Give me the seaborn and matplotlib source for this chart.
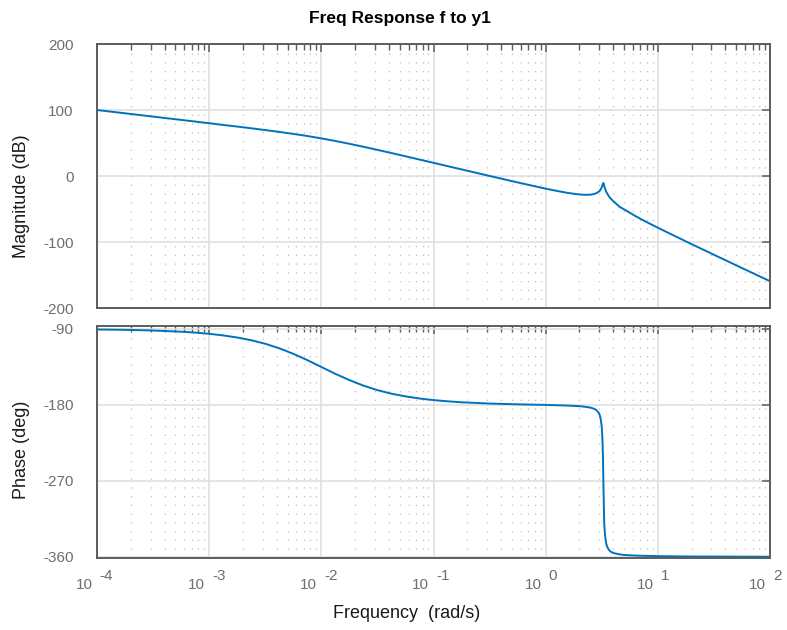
import matplotlib
matplotlib.use("Agg")
import matplotlib.pyplot as plt
import matplotlib.ticker as mticker
from matplotlib.transforms import blended_transform_factory, offset_copy
import seaborn as sns
import pandas as pd

# ---- data (rad/s, dB, deg) ----
freq = [1e-4, 1.78e-4, 3.16e-4, 5.62e-4, 7.50e-4, 1e-3, 1.33e-3, 1.78e-3, 2.37e-3,
        3.16e-3, 4.22e-3, 5.62e-3, 7.50e-3, 1e-2, 1.33e-2, 1.78e-2, 2.37e-2,
        3.16e-2, 4.22e-2, 5.62e-2, 7.50e-2, 0.1, 0.133, 0.178, 0.316, 0.562,
        1.0, 1.26, 1.58, 2.0, 2.24, 2.51, 2.69, 2.82, 2.95, 3.02, 3.09,
        3.16, 3.20, 3.24, 3.27, 3.30, 3.33, 3.39, 3.47, 3.55, 3.67, 3.80,
        3.98, 4.17, 4.57, 5.01, 6.31, 7.94, 10.0, 17.8, 31.6, 56.2, 100.0]
magnitude_db = [100, 95, 90, 85, 82.5, 80, 77.4, 74.9, 72.3,
                69.6, 66.8, 63.8, 60.6, 57.0, 53.1, 48.8, 44.3,
                39.6, 34.8, 29.9, 24.9, 20.0, 15.0, 10.0, 0.1, -9.7,
                -19.2, -22.6, -25.7, -28.0, -28.5, -28.3, -27.3, -26.2, -24.2, -22.7, -20.4,
                -17.2, -14.4, -11.7, -10.7, -12.1, -15.5, -19.3, -24.0, -27.0, -31.1, -34.1,
                -37.7, -40.7, -46.8, -50.6, -60.7, -69.8, -78.4, -99.1, -119.3, -139.4, -159.4]
phase_deg = [-90.6, -91.0, -91.8, -93.2, -94.3, -95.7, -97.6, -100.1, -103.3,
             -107.5, -112.9, -119.4, -126.9, -135.0, -143.1, -150.6, -157.1,
             -162.5, -166.7, -169.9, -172.4, -174.3, -175.7, -176.9, -178.4, -179.3,
             -180.0, -180.4, -180.8, -181.5, -182.2, -183.2, -184.5, -185.9, -188.8, -191.2, -195.9,
             -205.3, -217.6, -240.1, -270.0, -299.6, -322.0, -335.6, -344.8, -348.7, -352.1, -354.0,
             -355.3, -356.1, -357.2, -357.9, -358.6, -359.0, -359.3, -359.7, -359.8, -359.9, -360.0]

mag_ticks = [-200, -100, 0, 100, 200]
phase_ticks = [-360, -270, -180, -90]
x_decades = [1e-4, 1e-3, 1e-2, 1e-1, 1e0, 1e1, 1e2]
x_exponents = ["-4", "-3", "-2", "-1", "0", "1", "2"]

title = "Freq Response f to y1"
mag_label = "Magnitude (dB)"
phase_label = "Phase (deg)"
x_label = "Frequency  (rad/s)"

df = pd.DataFrame({"freq": freq, "mag": magnitude_db, "phase": phase_deg})

sns.set_theme(style="white")
plt.rcParams["font.family"] = ["Liberation Sans", "DejaVu Sans"]

W, H = 787, 630
fig = plt.figure(figsize=(W / 100, H / 100), dpi=100)
left, right = 97 / W, 770 / W
ax1 = fig.add_axes([left, 1 - 308 / H, right - left, (308 - 44) / H])
ax2 = fig.add_axes([left, 1 - 558 / H, right - left, (558 - 325.7) / H])

line_color = "#0072BD"
frame_color = "#5c5c5c"
tick_color = "#6e6e6e"

sns.lineplot(data=df, x="freq", y="mag", ax=ax1, color=line_color, lw=1.4,
             estimator=None, sort=False)
sns.lineplot(data=df, x="freq", y="phase", ax=ax2, color=line_color, lw=1.4,
             estimator=None, sort=False)

for ax in (ax1, ax2):
    ax.set_xscale("log")
    ax.set_xlim(1e-4, 1e2)
    ax.xaxis.set_major_locator(mticker.FixedLocator(x_decades))
    ax.xaxis.set_minor_locator(mticker.LogLocator(base=10, subs=range(2, 10), numticks=30))
    ax.grid(True, which="major", color="#dedede", lw=1.1, ls="-")
    ax.grid(True, which="minor", axis="x", color="#bdbdbd", lw=0.9, ls=(0, (1, 6)))
    ax.set_axisbelow(True)
    for s in ax.spines.values():
        s.set_color(frame_color)
        s.set_linewidth(1.4)
    ax.tick_params(which="both", direction="in", top=True, right=True,
                   colors=frame_color, labelcolor=tick_color, labelsize=11)
    ax.tick_params(which="major", length=6, width=1.1, pad=17)
    ax.tick_params(which="minor", length=4, width=1.0)
    ax.set_xlabel("")
    ax.set_ylabel("")
    ax.xaxis.set_major_formatter(mticker.NullFormatter())
    ax.xaxis.set_minor_formatter(mticker.NullFormatter())

ax1.set_ylim(-200, 200)
ax1.set_yticks(mag_ticks)
ax1.set_yticklabels([str(v) for v in mag_ticks])
ax2.set_ylim(-361.5, -86.1)
ax2.set_yticks(phase_ticks)
ax2.set_yticklabels([str(v) for v in phase_ticks])

# x tick labels in "10 ^exp" style
trans = blended_transform_factory(ax2.transData, fig.transFigure)
for xv, ex in zip(x_decades, x_exponents):
    t1 = offset_copy(trans, fig=fig, x=-3, y=0, units="points")
    ax2.text(xv, 1 - 589 / H, "10", transform=t1, ha="right", va="baseline",
             fontsize=11, color=tick_color)
    t2 = offset_copy(trans, fig=fig, x=2, y=0, units="points")
    ax2.text(xv, 1 - 580 / H, ex, transform=t2, ha="left", va="baseline",
             fontsize=11, color=tick_color)

fig.text(399.5 / W, 1 - 18 / H, title, ha="center", va="center",
         fontsize=12.5, fontweight="bold", color="black")
fig.text(407 / W, 1 - 613 / H, x_label, ha="center", va="center",
         fontsize=13, color="#1a1a1a")
fig.text(22 / W, 1 - 196 / H, mag_label, ha="center", va="center",
         rotation=90, fontsize=13, color="#1a1a1a")
fig.text(22 / W, 1 - 450 / H, phase_label, ha="center", va="center",
         rotation=90, fontsize=13, color="#1a1a1a")

fig.savefig("out.png", dpi=100, facecolor="white")
